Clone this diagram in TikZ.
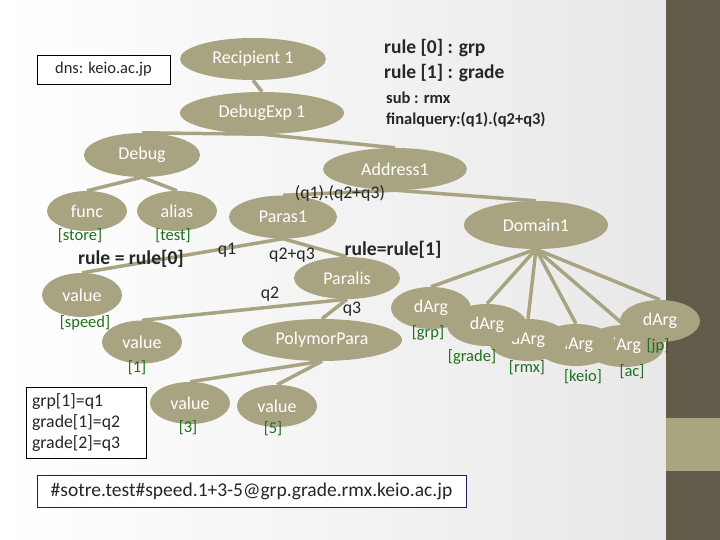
\documentclass[tikz,border=0pt]{standalone}
\usepackage{fontspec}
\setmainfont{Carlito}
\usetikzlibrary{shapes.geometric,backgrounds}
\definecolor{khaki}{HTML}{A8A482}
\definecolor{barbrown}{HTML}{635C4A}
\definecolor{barlight}{HTML}{A9A57E}
\definecolor{taggreen}{HTML}{1E6E1E}
\definecolor{inkgray}{HTML}{262626}
\definecolor{boxnavy}{HTML}{1F1F5A}

\begin{document}
\begin{tikzpicture}[x=1pt, y=-1pt,
    elt/.style={ellipse, fill=khaki, text=white, inner sep=0pt,
                minimum width=#1, minimum height=42pt,
                font=\fontsize{18}{20}\selectfont},
    elt/.default=80pt,
    tag/.style={text=taggreen, inner sep=0pt, font=\fontsize{16.5}{18}\selectfont},
    link/.style={draw=khaki, line width=3.5pt},
    elbl/.style={text=inkgray, inner sep=0pt, font=\fontsize{17.8}{20}\selectfont},
    rlbl/.style={text=inkgray, inner sep=0pt, font=\fontsize{19.6}{22}\selectfont\bfseries},
    info/.style={text=inkgray, anchor=west, inner sep=0pt, font=\fontsize{#1}{#1}\selectfont\bfseries},
    frame/.style={draw=#1, line width=0.8pt, fill=white, text=inkgray, inner sep=0pt}
  ]
    \useasboundingbox (0,0) rectangle (720,540);

    % --- backdrop ---
    \begin{scope}[on background layer]
      \shade[left color=white, right color=black!9] (0,0) rectangle (666,540);
      \fill[barbrown] (666,0) rectangle (720,540);
      \fill[barlight] (666,418) rectangle (720,471);
    \end{scope}

    % --- tree ---
    \node[elt=146pt] (rcp) at (253,59) {Recipient 1};
    \node[elt=164pt] (dexp) at (262,113) {DebugExp 1};
    \node[elt=116pt, minimum height=44pt] (dbg) at (142,155) {Debug};
    \node[elt, minimum height=40pt] (func) at (87,211) {func};
    \node[elt, minimum height=40pt] (alias) at (177,211) {alias};
    \node[elt=144pt] (addr) at (395,169) {Address1};
    \node[elt=108pt, minimum height=43pt] (paras) at (283,217) {Paras1};
    \node[elt=144pt, minimum height=48pt] (dom) at (536,225) {Domain1};
    \node[elt, minimum height=44pt] (vspd) at (82,295) {value};
    \node[elt=106pt] (paral) at (347,278) {Paralis};
    \node[elt, minimum height=43pt] (vone) at (142,342) {value};
    \node[elt=160pt] (poly) at (322,340) {PolymorPara};
    \node[elt] (vthree) at (190,403) {value};
    \node[elt] (vfive) at (277,406) {value};

    % dArg ellipses, drawn right to left as in the slide
    \foreach \n/\x/\y in {6/660/321, 5/624/346, 4/576/345, 3/528/340, 1/431/308, 2/487/325}
      \node[elt] (d\n) at (\x,\y) {dArg};

    \begin{scope}[on background layer]
      \draw[link] (rcp.south) -- (dexp.north);
      \draw[link] (dexp.south) -- (dbg.north);
      \draw[link] (dexp.south) -- (addr.north);
      \draw[link] (dbg.south) -- (func.north);
      \draw[link] (dbg.south) -- (alias.north);
      \draw[link] (addr.south) -- (paras.north);
      \draw[link] (addr.south) -- (dom.north);
      \draw[link] (paras.south) -- (vspd.north);
      \draw[link] (paras.south) -- (paral.north);
      \draw[link] (paral.south) -- (vone.north);
      \draw[link] (paral.south) -- (poly.north);
      \draw[link] (poly.south) -- (vthree.north);
      \draw[link] (poly.south) -- (vfive.north);
      \foreach \n in {1,...,6}
        \draw[link] (dom.south) -- (d\n.north);
    \end{scope}

    % --- green tags ---
    \node[tag] (tstore) at (80,236) {[store]};
    \node[tag] (ttest) at (173,236) {[test]};
    \node[tag] (tspeed) at (85,323) {[speed]};
    \node[tag] (tone) at (137,368) {[1]};
    \node[tag] (tthree) at (188,428) {[3]};
    \node[tag] (tfive) at (273,429) {[5]};
    \node[tag] (tgrp) at (428,333) {[grp]};
    \node[tag] (tgrade) at (472,357) {[grade]};
    \node[tag] (trmx) at (527,368) {[rmx]};
    \node[tag] (tkeio) at (583,377) {[keio]};
    \node[tag] (tac) at (632,372) {[ac]};
    \node[tag] (tjp) at (658,346) {[jp]};

    % --- edge texts ---
    \node[elbl] (qall) at (340,193) {(q1).(q2+q3)};
    \node[elbl] (qone) at (227,250) {q1};
    \node[elbl] (qtwothree) at (292,255) {q2+q3};
    \node[elbl] (qtwo) at (270,294) {q2};
    \node[elbl] (qthree) at (352,309) {q3};
    \node[rlbl] (rzero) at (131,259) {rule = rule[0]};
    \node[rlbl] (rone) at (393,250) {rule=rule[1]};

    % --- notes ---
    \node[info=19.5] (ngrp) at (384,48) {rule [0] : grp};
    \node[info=19.5] (ngrade) at (384,73) {rule [1] : grade};
    \node[info=16.5] (nsub) at (386,98) {sub : rmx};
    \node[info=16.5] (nfinal) at (386,120) {finalquery:(q1).(q2+q3)};

    \node[frame=black, minimum width=133pt, minimum height=29pt,
          font=\fontsize{16.5}{18}\selectfont] (dns) at (103.5,69.5) {dns: keio.ac.jp};
    \node[frame=black, minimum width=120pt, minimum height=71pt,
          text width=108pt, align=left,
          font=\fontsize{17.8}{21}\selectfont] (assign) at (86,422.5)
          {grp[1]=q1\\grade[1]=q2\\grade[2]=q3};
    \node[frame=boxnavy, minimum width=429pt, minimum height=32pt,
          font=\fontsize{19.5}{21}\selectfont] (query) at (251.5,491)
          {\#sotre.test\#speed.1+3-5@grp.grade.rmx.keio.ac.jp};
  \end{tikzpicture}
\end{document}
